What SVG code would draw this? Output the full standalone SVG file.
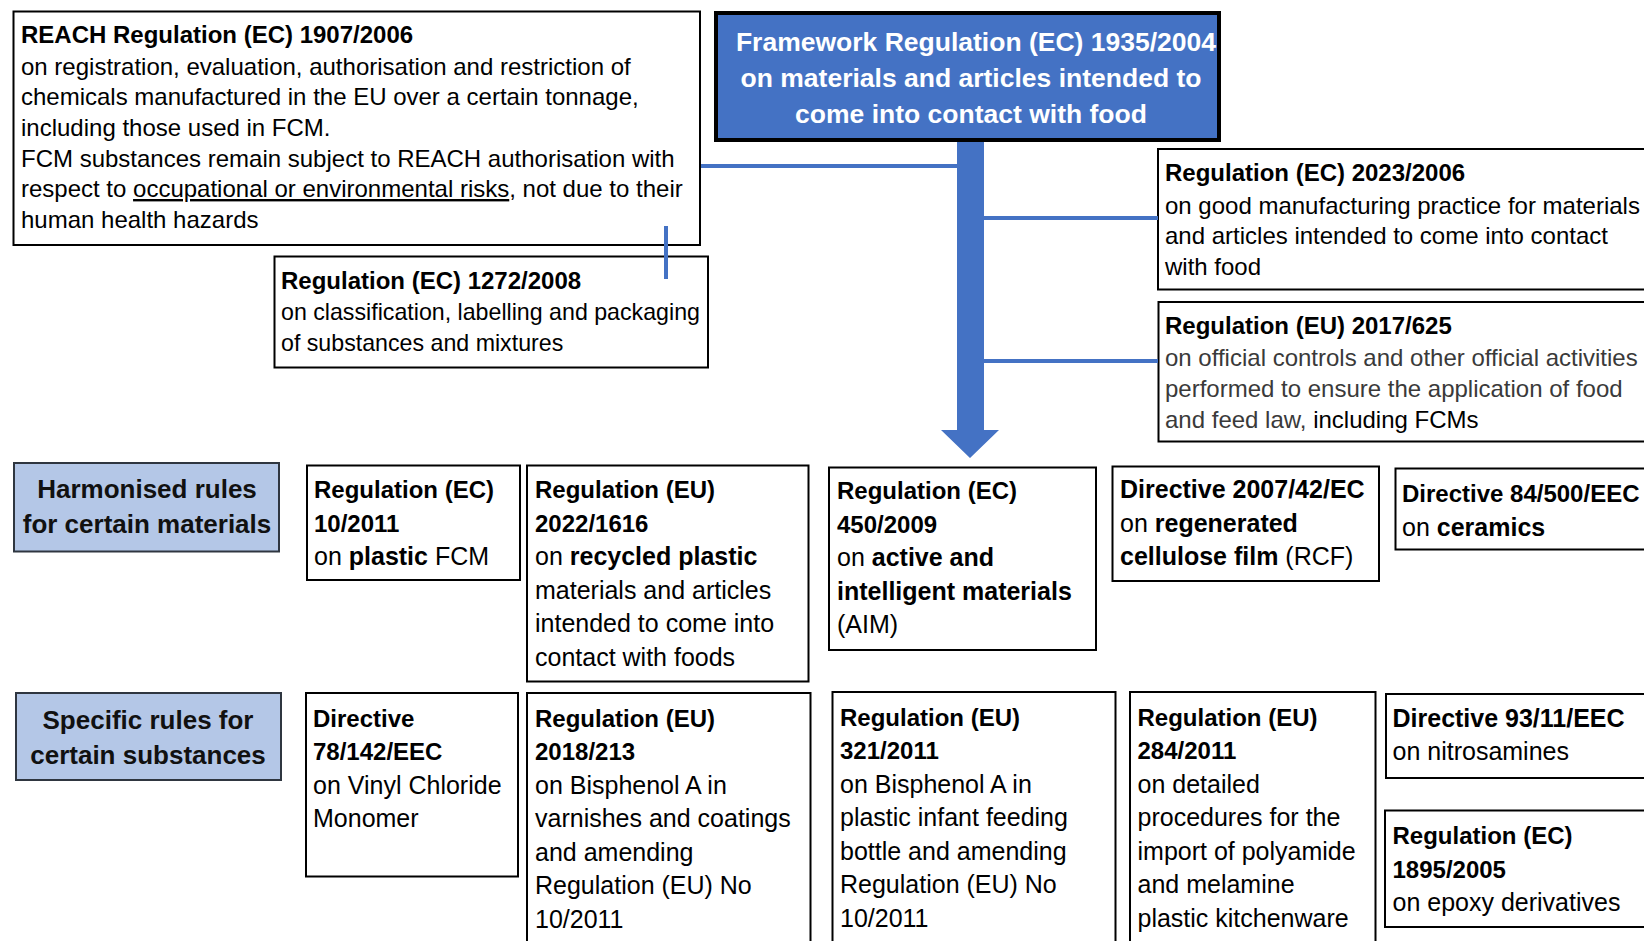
<svg xmlns="http://www.w3.org/2000/svg" width="1644" height="941" viewBox="0 0 1644 941">
<style>
.box{fill:#fff;stroke:#000;stroke-width:2}
.cat{fill:#B4C7E7;stroke:#2F3640;stroke-width:2}
.fw{fill:#4472C4;stroke:#000;stroke-width:4}
.t{font-family:"Liberation Sans",Arial,sans-serif;font-size:24px;fill:#000}
.l{font-size:25px}
.b{font-weight:bold}
.bt{font-weight:bold;font-size:24px}
.g{fill:#3a3a3a}
.w{fill:#fff;font-weight:bold;font-size:26.5px;text-anchor:middle}
.c{font-weight:bold;font-size:26px;text-anchor:middle;fill:#111}
.conn{stroke:#4472C4;stroke-width:4;fill:none}
</style>
<rect width="1644" height="941" fill="#fff"/>

<g id="reach">
<rect class="box" x="13.5" y="11.5" width="686.5" height="233.5"/>
<text class="t" x="21" y="43"><tspan class="b">REACH Regulation (EC) 1907/2006</tspan>
<tspan x="21" y="74.5">on registration, evaluation, authorisation and restriction of</tspan>
<tspan x="21" y="105">chemicals manufactured in the EU over a certain tonnage,</tspan>
<tspan x="21" y="136">including those used in FCM.</tspan>
<tspan x="21" y="166.5">FCM substances remain subject to REACH authorisation with</tspan>
<tspan x="21" y="197">respect to <tspan text-decoration="underline">occupational or environmental risks</tspan>, not due to their</tspan>
<tspan x="21" y="228">human health hazards</tspan></text>
</g>

<g id="clp">
<rect class="box" x="274.5" y="256.5" width="433.5" height="111"/>
<text class="t" x="281" y="289" style="font-size:23.2px"><tspan class="b" style="font-size:24px">Regulation (EC) 1272/2008</tspan>
<tspan x="281" y="320">on classification, labelling and packaging</tspan>
<tspan x="281" y="351">of substances and mixtures</tspan></text>
</g>

<g id="framework">
<rect class="fw" x="716" y="13" width="503" height="127"/>
<text class="t w" x="976" y="51">Framework Regulation (EC) 1935/2004</text>
<text class="t w" x="971" y="87">on materials and articles intended to</text>
<text class="t w" x="971" y="123">come into contact with food</text>
</g>

<g id="gmp">
<rect class="box" x="1158" y="149" width="492" height="140.5"/>
<text class="t" x="1165" y="181"><tspan class="b">Regulation (EC) 2023/2006</tspan>
<tspan x="1165" y="213.5">on good manufacturing practice for materials</tspan>
<tspan x="1165" y="244">and articles intended to come into contact</tspan>
<tspan x="1165" y="274.5">with food</tspan></text>
</g>

<g id="controls">
<rect class="box" x="1158.5" y="302" width="492" height="139.5"/>
<text class="t" x="1165" y="334"><tspan class="b">Regulation (EU) 2017/625</tspan>
<tspan x="1165" y="366" class="g">on official controls and other official activities</tspan>
<tspan x="1165" y="397" class="g">performed to ensure the application of food</tspan>
<tspan x="1165" y="428"><tspan class="g">and feed law, </tspan>including FCMs</tspan></text>
</g>

<g id="harmonised">
<rect class="cat" x="14" y="463" width="265" height="88.5"/>
<text class="t c" x="147" y="497.5">Harmonised rules</text>
<text class="t c" x="147" y="533">for certain materials</text>
</g>

<g id="plastic">
<rect class="box" x="307" y="465.5" width="213" height="114.5"/>
<text class="t l" x="314" y="498"><tspan class="bt">Regulation (EC)</tspan>
<tspan x="314" y="531.5" class="bt">10/2011</tspan>
<tspan x="314" y="565">on <tspan class="b">plastic</tspan> FCM</tspan></text>
</g>

<g id="recycled">
<rect class="box" x="527" y="465.5" width="281.5" height="216"/>
<text class="t l" x="535" y="498"><tspan class="bt">Regulation (EU)</tspan>
<tspan x="535" y="531.5" class="bt">2022/1616</tspan>
<tspan x="535" y="565">on <tspan class="b">recycled plastic</tspan></tspan>
<tspan x="535" y="598.5">materials and articles</tspan>
<tspan x="535" y="632">intended to come into</tspan>
<tspan x="535" y="665.5">contact with foods</tspan></text>
</g>

<g id="aim">
<rect class="box" x="829" y="467.5" width="267" height="182.5"/>
<text class="t l" x="837" y="499"><tspan class="bt">Regulation (EC)</tspan>
<tspan x="837" y="532.5" class="bt">450/2009</tspan>
<tspan x="837" y="566">on <tspan class="b">active and</tspan></tspan>
<tspan x="837" y="599.5" class="b">intelligent materials</tspan>
<tspan x="837" y="633">(AIM)</tspan></text>
</g>

<g id="rcf">
<rect class="box" x="1112.5" y="466.5" width="266.5" height="114.5"/>
<text class="t l" x="1120" y="498"><tspan class="b">Directive 2007/42/EC</tspan>
<tspan x="1120" y="531.5">on <tspan class="b">regenerated</tspan></tspan>
<tspan x="1120" y="565"><tspan class="b">cellulose film</tspan> (RCF)</tspan></text>
</g>

<g id="ceramics">
<rect class="box" x="1395.5" y="468.5" width="254" height="81"/>
<text class="t l" x="1402" y="502"><tspan class="bt">Directive 84/500/EEC</tspan>
<tspan x="1402" y="535.5">on <tspan class="b">ceramics</tspan></tspan></text>
</g>

<g id="specific">
<rect class="cat" x="16" y="693" width="265" height="87"/>
<text class="t c" x="148" y="729">Specific rules for</text>
<text class="t c" x="148" y="764">certain substances</text>
</g>

<g id="vcm">
<rect class="box" x="306" y="693" width="212" height="183.5"/>
<text class="t l" x="313" y="726.5"><tspan class="bt">Directive</tspan>
<tspan x="313" y="760" class="bt">78/142/EEC</tspan>
<tspan x="313" y="793.5">on Vinyl Chloride</tspan>
<tspan x="313" y="827">Monomer</tspan></text>
</g>

<g id="bpa-coatings">
<rect class="box" x="527" y="693" width="283.5" height="260"/>
<text class="t l" x="535" y="726.5"><tspan class="bt">Regulation (EU)</tspan>
<tspan x="535" y="760" class="bt">2018/213</tspan>
<tspan x="535" y="793.5">on Bisphenol A in</tspan>
<tspan x="535" y="827">varnishes and coatings</tspan>
<tspan x="535" y="860.5">and amending</tspan>
<tspan x="535" y="894">Regulation (EU) No</tspan>
<tspan x="535" y="927.5">10/2011</tspan></text>
</g>

<g id="bpa-bottles">
<rect class="box" x="832.5" y="692" width="283" height="260"/>
<text class="t l" x="840" y="725.5"><tspan class="bt">Regulation (EU)</tspan>
<tspan x="840" y="759" class="bt">321/2011</tspan>
<tspan x="840" y="792.5">on Bisphenol A in</tspan>
<tspan x="840" y="826">plastic infant feeding</tspan>
<tspan x="840" y="859.5">bottle and amending</tspan>
<tspan x="840" y="893">Regulation (EU) No</tspan>
<tspan x="840" y="926.5">10/2011</tspan></text>
</g>

<g id="kitchenware">
<rect class="box" x="1130" y="692" width="245.5" height="260"/>
<text class="t l" x="1137.5" y="725.5"><tspan class="bt">Regulation (EU)</tspan>
<tspan x="1137.5" y="759" class="bt">284/2011</tspan>
<tspan x="1137.5" y="792.5">on detailed</tspan>
<tspan x="1137.5" y="826">procedures  for the</tspan>
<tspan x="1137.5" y="859.5">import of polyamide</tspan>
<tspan x="1137.5" y="893">and melamine</tspan>
<tspan x="1137.5" y="926.5">plastic kitchenware</tspan></text>
</g>

<g id="nitrosamines">
<rect class="box" x="1386" y="694" width="264" height="84"/>
<text class="t l" x="1392.5" y="726.5"><tspan class="b">Directive 93/11/EEC</tspan>
<tspan x="1392.5" y="760">on nitrosamines</tspan></text>
</g>

<g id="epoxy">
<rect class="box" x="1385" y="810.5" width="265" height="116.5"/>
<text class="t l" x="1392.5" y="844"><tspan class="bt">Regulation (EC)</tspan>
<tspan x="1392.5" y="877.5" class="bt">1895/2005</tspan>
<tspan x="1392.5" y="911">on epoxy derivatives</tspan></text>
</g>

<g id="connectors">
<line class="conn" x1="701" y1="166" x2="958" y2="166"/>
<line class="conn" x1="666" y1="226" x2="666" y2="279"/>
<line class="conn" x1="983" y1="218" x2="1158" y2="218"/>
<line class="conn" x1="983" y1="361" x2="1158" y2="361"/>
<polygon id="main-arrow" points="957,142 984,142 984,430 999,430 970,458 941,430 957,430" fill="#4472C4"/>
</g>
</svg>
